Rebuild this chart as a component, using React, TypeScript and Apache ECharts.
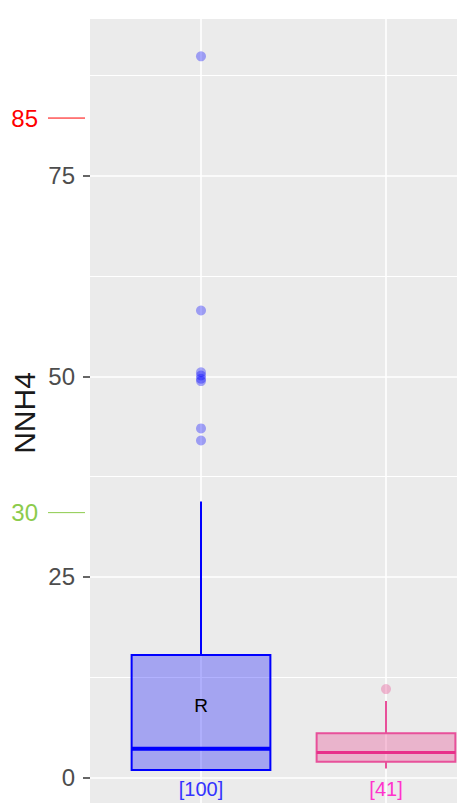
import React, { useEffect, useRef } from 'react';
import * as echarts from 'echarts';

// ---- data ----
const groupPos = [1, 2];
const groupCounts = [100, 41];
const boxInnerLabel = ['R', ''];
const whiskerLow = [0.85, 1.1];
const q1 = [0.9, 1.95];
const median = [3.57, 3.1];
const q3 = [15.25, 5.5];
const whiskerHigh = [34.4, 9.5];
const outliersA = [89.9, 58.2, 50.5, 50.1, 49.7, 49.4, 43.5, 42.0];
const outliersB = [11.0];
const yTickValues = [0, 25, 50, 75];
const refLabels = ['85', '30'];
const refLabelValues = [82.2, 33.0];
const innerLabelValue = 9.0;
const countLabelValue = -1.46;

// ---- styles ----
const FONT = 'Liberation Sans, Arial, sans-serif';
const strokeColors = ['#0000FF', '#E8509A'];
const fillColors = ['rgba(0,0,255,0.3)', 'rgba(232,65,140,0.32)'];
const medianColors = ['#0000FF', '#E8308A'];
const medianWidths = [4, 3];
const countColors = ['#3333FF', '#FF33CC'];
const outlierColors = ['rgba(0,0,255,0.42)', 'rgba(232,65,140,0.42)'];
const refColors = ['#FF0000', '#8CCB4C'];

const OFF = 40; // chart div is shifted up by this many px
const CW = 520;
const CH = 1060;

export default function App() {
  const ref = useRef<HTMLDivElement>(null);
  useEffect(() => {
    if (!ref.current) return;
    const chart = echarts.init(ref.current, null, { renderer: 'svg', width: CW, height: CH });
    const boxData = groupPos.map((p, i) => [p, whiskerLow[i], q1[i], median[i], q3[i], whiskerHigh[i]]);
    const option: any = {
      animation: false,
      backgroundColor: '#FFFFFF',
      grid: {
        left: 90,
        top: 15.3,
        width: 407,
        height: 1002.5,
        show: true,
        backgroundColor: '#EBEBEB',
        borderWidth: 0,
        containLabel: false,
        outerBoundsMode: 'none',
      },
      xAxis: {
        type: 'value',
        min: 0.4,
        max: 2.6,
        axisLine: { show: false },
        axisTick: { show: false },
        axisLabel: { show: false },
        splitLine: { show: false },
      },
      yAxis: {
        type: 'value',
        min: -25,
        max: 100,
        interval: 25,
        axisLine: { show: false },
        axisTick: { show: true, length: 7, lineStyle: { color: '#333333', width: 1.5 } },
        axisLabel: {
          show: true,
          margin: 15,
          fontSize: 24,
          color: '#4D4D4D',
          fontFamily: FONT,
          formatter: (v: number) => (yTickValues.indexOf(v) >= 0 ? String(v) : ''),
        },
        splitLine: { show: true, lineStyle: { color: '#FFFFFF', width: 1.6 } },
        minorTick: { show: false, splitNumber: 2 },
        minorSplitLine: { show: true, lineStyle: { color: '#FFFFFF', width: 1 } },
      },
      series: [
        {
          type: 'custom',
          z: 2,
          data: boxData,
          encode: { x: 0, y: [1, 2, 3, 4, 5] },
          renderItem: (params: any, api: any) => {
            const i = params.dataIndex;
            const x = api.value(0);
            const cs = params.coordSys;
            const pHi = api.coord([x, api.value(5)]);
            const pQ3 = api.coord([x, api.value(4)]);
            const pMed = api.coord([x, api.value(3)]);
            const pQ1 = api.coord([x, api.value(2)]);
            const pLo = api.coord([x, api.value(1)]);
            const pInner = api.coord([x, innerLabelValue]);
            const pCount = api.coord([x, countLabelValue]);
            const w = api.size([0.75, 0])[0];
            const cx = pMed[0];
            const stroke = strokeColors[i];
            return {
              type: 'group',
              children: [
                { type: 'line', shape: { x1: cx, y1: cs.y, x2: cx, y2: cs.y + cs.height }, style: { stroke: '#FFFFFF', lineWidth: 1.6 } },
                { type: 'line', shape: { x1: cx, y1: pHi[1], x2: cx, y2: pQ3[1] }, style: { stroke, lineWidth: 2 } },
                { type: 'line', shape: { x1: cx, y1: pQ1[1], x2: cx, y2: pLo[1] }, style: { stroke, lineWidth: 2 } },
                {
                  type: 'rect',
                  shape: { x: cx - w / 2, y: pQ3[1], width: w, height: pQ1[1] - pQ3[1] },
                  style: { fill: fillColors[i], stroke, lineWidth: 2 },
                },
                {
                  type: 'line',
                  shape: { x1: cx - w / 2, y1: pMed[1], x2: cx + w / 2, y2: pMed[1] },
                  style: { stroke: medianColors[i], lineWidth: medianWidths[i] },
                },
                {
                  type: 'text',
                  x: cx,
                  y: pInner[1],
                  style: { text: boxInnerLabel[i], fill: '#000000', fontSize: 19, fontFamily: FONT, align: 'center', verticalAlign: 'middle' },
                },
                {
                  type: 'text',
                  x: cx,
                  y: pCount[1],
                  style: { text: '[' + groupCounts[i] + ']', fill: countColors[i], fontSize: 20, fontFamily: FONT, align: 'center', verticalAlign: 'middle' },
                },
              ],
            };
          },
        },
        {
          type: 'scatter',
          z: 3,
          symbolSize: 10,
          itemStyle: { color: outlierColors[0] },
          data: outliersA.map((v) => [groupPos[0], v]),
        },
        {
          type: 'scatter',
          z: 3,
          symbolSize: 10,
          itemStyle: { color: outlierColors[1] },
          data: outliersB.map((v) => [groupPos[1], v]),
        },
      ],
    };
    chart.setOption(option);

    const graphics: any[] = [
      // white cover above the panel
      { type: 'rect', z: 100, shape: { x: 0, y: 0, width: CW, height: 19 + OFF }, style: { fill: '#FFFFFF' } },
      {
        type: 'text',
        z: 100,
        x: 24.5,
        y: 413 + OFF,
        rotation: Math.PI / 2,
        style: { text: 'NNH4', fill: '#1A1A1A', fontSize: 30, fontFamily: FONT, align: 'center', verticalAlign: 'middle' },
      },
    ];
    refLabels.forEach((lab, i) => {
      const y = chart.convertToPixel({ yAxisIndex: 0 } as any, refLabelValues[i]) as number;
      graphics.push({
        type: 'text',
        z: 100,
        x: 38,
        y,
        style: { text: lab, fill: refColors[i], fontSize: 24, fontFamily: FONT, align: 'right', verticalAlign: 'middle' },
      });
      graphics.push({
        type: 'line',
        z: 100,
        shape: { x1: 48, y1: y, x2: 85, y2: y },
        style: { stroke: refColors[i], lineWidth: 1 },
      });
    });
    chart.setOption({ graphic: graphics });

    return () => chart.dispose();
  }, []);

  return (
    <div style={{ position: 'fixed', left: 0, top: 0, width: 457, height: 803, overflow: 'hidden', background: '#FFFFFF' }}>
      <div ref={ref} style={{ position: 'absolute', left: 0, top: -OFF, width: CW, height: CH }} />
    </div>
  );
}
